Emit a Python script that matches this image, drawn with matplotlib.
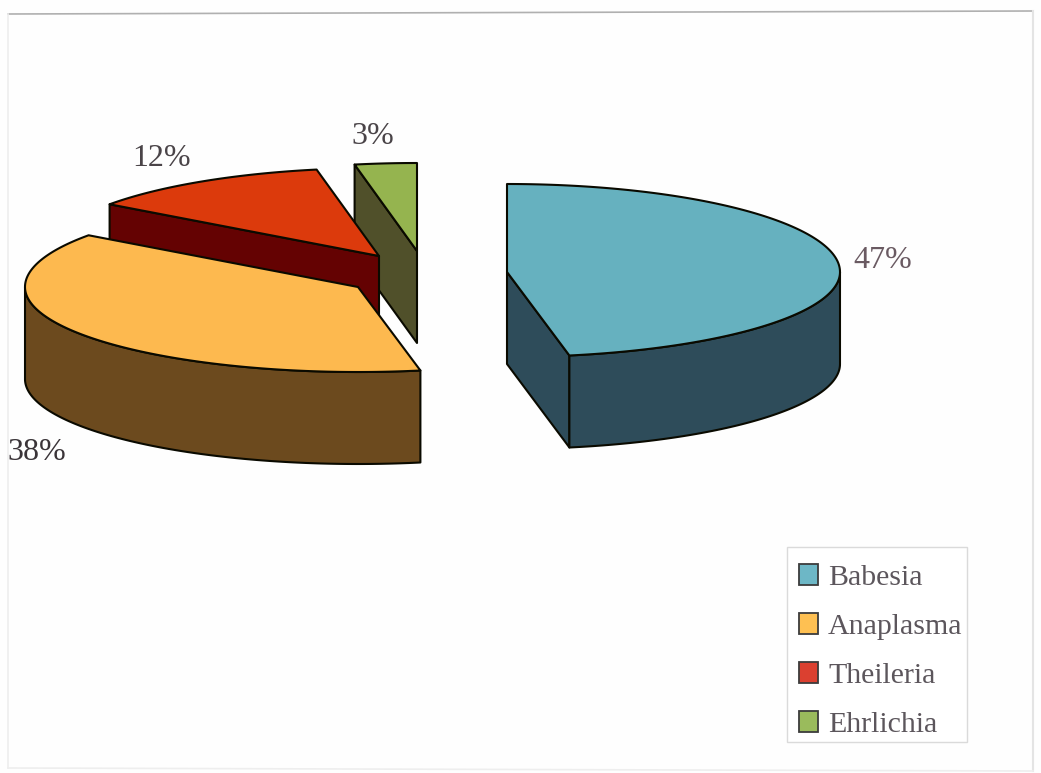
import numpy as np
import matplotlib
matplotlib.use('Agg')
import matplotlib.pyplot as plt
from matplotlib.patches import Polygon, Patch, Rectangle

# data
categories = ['Babesia', 'Anaplasma', 'Theileria', 'Ehrlichia']
percent = [47, 38, 12, 3]

# styles
top_colors = ['#66B1BF', '#FDB94F', '#DC3A0C', '#95B44F']
side_colors = ['#2E4C5A', '#6C4A1E', '#640202', '#50502A']
legend_colors = ['#6DB7C6', '#FEC052', '#DB4030', '#9ABB5C']
label_colors = ['#6A5A62', '#3A3438', '#4A4448', '#4A4448']
centers = [(507, 272), (358, 287), (379, 256), (417, 251)]
label_pos = [(883, 260), (37, 452), (162, 158), (373, 136)]
rx, ry_back, ry_front, depth = 333, 88, 85, 92

plt.rcParams['font.family'] = ['Liberation Serif', 'DejaVu Serif']

fig = plt.figure(figsize=(10.41, 7.73), dpi=100, facecolor='#FEFEFE')
ax = fig.add_axes([0, 0, 1, 1])
ax.set_xlim(0, 1041)
ax.set_ylim(773, 0)
ax.axis('off')

# faint frame around the chart
ax.plot([8, 1032], [14, 11], color='#B0B0B0', lw=1.2)
ax.plot([8, 8], [14, 768], color='#EEEEEE', lw=1.2)
ax.plot([1033, 1033], [11, 771], color='#E4E4E4', lw=1.5)
ax.plot([8, 1033], [768, 771], color='#EEEEEE', lw=1.2)


def rim(cx, cy, t):
    # the near half of the ellipse is a little flatter than the far half
    ry = np.where(np.cos(t) < 0, ry_front, ry_back)
    return np.column_stack([cx + rx * np.sin(t), cy - ry * np.cos(t)])


def face(points, color, z):
    ax.add_patch(Polygon(points, closed=True, facecolor=color, edgecolor='#0A0A00',
                         lw=1.5, joinstyle='round', zorder=z))


# angles run clockwise from 12 o'clock
ends = np.cumsum(percent) / 100 * 2 * np.pi
starts = ends - np.array(percent) / 100 * 2 * np.pi

# back slices first so the front ones cover them
order = [3, 2, 1, 0]
for z, i in enumerate(order):
    cx, cy = centers[i]
    t = np.linspace(starts[i], ends[i], 200)
    top = rim(cx, cy, t)
    base = np.array([cx, cy])
    drop = np.array([0, depth])

    # cut faces, only those turned towards the viewer
    cuts = []
    if np.sin(starts[i]) < -1e-6:
        cuts.append(starts[i])
    if np.sin(ends[i]) > 1e-6:
        cuts.append(ends[i])
    for a in cuts:
        p = rim(cx, cy, np.array([a]))[0]
        face([base, p, p + drop, base + drop], side_colors[i], 3 * z + 1)

    # outer wall, only the part facing the viewer
    front = t[np.cos(t) <= 0]
    if len(front) > 1:
        r = rim(cx, cy, front)
        face(np.vstack([r, r[::-1] + drop]), side_colors[i], 3 * z + 2)

    face(np.vstack([base, top]), top_colors[i], 3 * z + 3)

for i in range(len(percent)):
    ax.text(label_pos[i][0], label_pos[i][1], f'{percent[i]}%', fontsize=23,
            color=label_colors[i], ha='center', va='center', zorder=30)

# legend box drawn by hand, its right padding is narrower than the left one
ax.add_patch(Rectangle((787, 547), 180, 195, facecolor='#FFFFFF', edgecolor='#DADADA',
                       lw=1.0, zorder=35))
handles = [Patch(facecolor=c, edgecolor='#3C3C3C', lw=1.3) for c in legend_colors]
leg = ax.legend(handles, categories, loc='upper left',
                bbox_to_anchor=(799 / 1041, 1 - 564 / 773), borderaxespad=0,
                fontsize=21.5, frameon=False,
                handlelength=0.65, handleheight=0.68, handletextpad=0.32,
                labelspacing=0.75, borderpad=0, labelcolor='#5C565C')
leg.set_zorder(40)

plt.savefig('out.png', dpi=100, facecolor=fig.get_facecolor())
